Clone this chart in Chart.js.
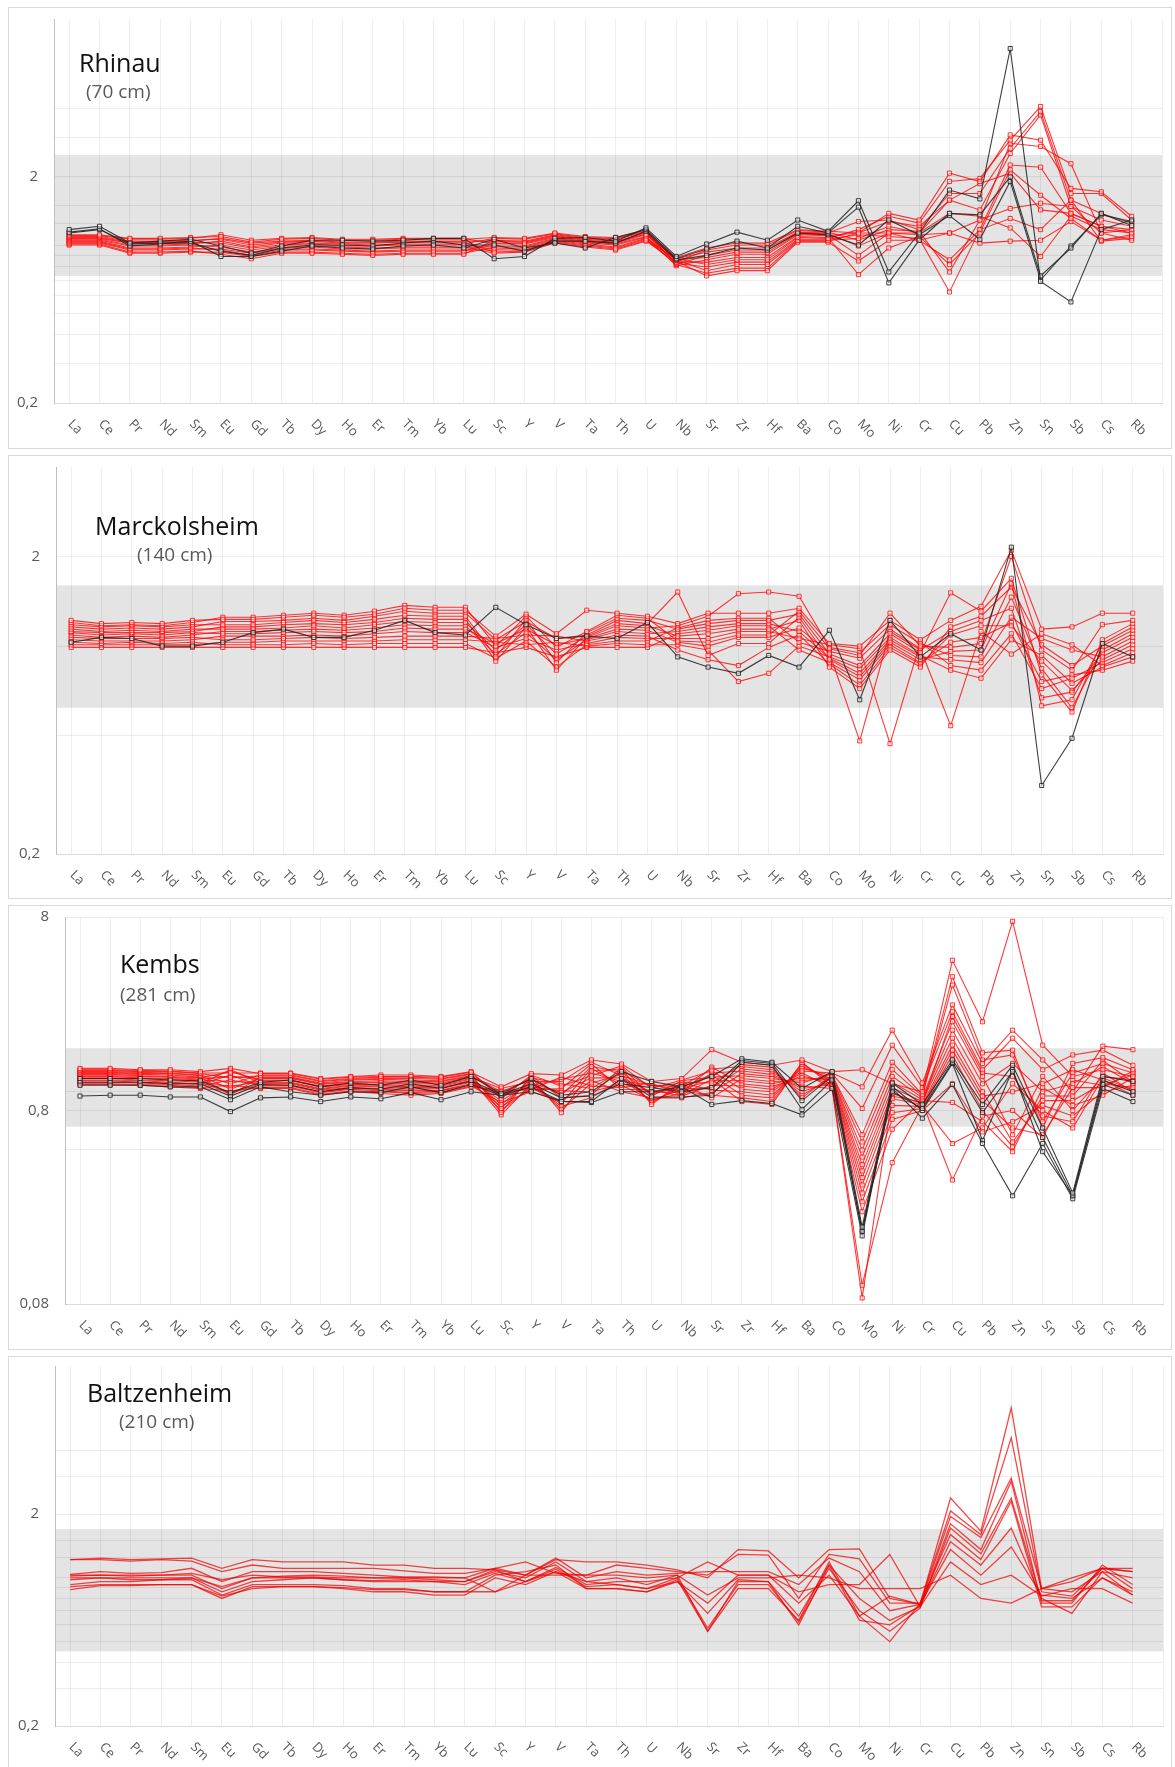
<!DOCTYPE html>
<html>
<head>
<meta charset="utf-8">
<script src="https://cdn.jsdelivr.net/npm/chart.js@4.4.0/dist/chart.umd.min.js"></script>
<style>
  body { margin: 0; background: #fff; }
  #page { position: relative; width: 1175px; height: 1767px; overflow: hidden; background: #fff; }
  .panel { position: absolute; left: 8px; width: 1162px; border: 1px solid #d9d9d9; }
  .panel canvas { display: block; }
</style>
</head>
<body>
<div id="page">
  <div class="panel" style="top:7px;height:440px"><canvas id="rhinau" width="1162" height="440"></canvas></div>
  <div class="panel" style="top:455px;height:442px"><canvas id="marckolsheim" width="1162" height="442"></canvas></div>
  <div class="panel" style="top:905px;height:443px"><canvas id="kembs" width="1162" height="443"></canvas></div>
  <div class="panel" style="top:1356px;height:410px"><canvas id="baltzenheim" width="1162" height="410"></canvas></div>
</div>
<script>
const elements = ['La', 'Ce', 'Pr', 'Nd', 'Sm', 'Eu', 'Gd', 'Tb', 'Dy', 'Ho', 'Er', 'Tm', 'Yb', 'Lu', 'Sc', 'Y', 'V', 'Ta', 'Th', 'U',
  'Nb', 'Sr', 'Zr', 'Hf', 'Ba', 'Co', 'Mo', 'Ni', 'Cr', 'Cu', 'Pb', 'Zn', 'Sn', 'Sb', 'Cs', 'Rb'];

// Rhinau (70 cm)
const rhinauBlack = [
  [1.17, 1.21, 1.02, 1.04, 1.06, 0.99, 0.92, 0.99, 1.05, 1.05, 1.04, 1.05, 1.07, 1.07, 0.87, 0.89, 1.07, 1.08, 1.04, 1.19, 0.89, 1.01, 1.14, 1.05, 1.29, 1.15, 1.57, 0.76, 1.13, 1.75, 1.60, 7.40, 0.69, 0.56, 1.17, 1.29],
  [1.14, 1.18, 0.99, 1.01, 1.04, 0.89, 0.89, 0.94, 0.99, 0.97, 0.96, 0.99, 1.00, 0.97, 1.06, 0.97, 1.02, 0.97, 1.08, 1.17, 0.87, 0.96, 1.04, 0.97, 1.21, 1.13, 1.47, 0.68, 1.05, 1.38, 1.36, 2.00, 0.73, 0.97, 1.38, 1.22],
  [1.13, 1.17, 1.01, 1.02, 1.02, 0.94, 0.90, 0.97, 1.00, 1.00, 0.99, 1.02, 1.04, 1.00, 1.00, 0.94, 1.04, 1.04, 1.02, 1.15, 0.86, 0.90, 0.97, 0.95, 1.13, 1.11, 1.00, 1.29, 1.11, 1.35, 1.06, 1.91, 0.70, 0.99, 1.36, 1.27],
];
const rhinauRed = [
  [1.11, 1.11, 1.07, 1.07, 1.08, 1.09, 1.03, 1.06, 1.07, 1.05, 1.05, 1.06, 1.06, 1.06, 1.08, 1.07, 1.13, 1.09, 1.08, 1.16, 0.88, 0.97, 1.02, 1.02, 1.17, 1.15, 1.13, 1.38, 1.29, 2.08, 1.91, 3.07, 2.91, 1.78, 1.72, 1.34],
  [1.10, 1.10, 1.06, 1.06, 1.07, 1.11, 1.05, 1.07, 1.08, 1.06, 1.06, 1.07, 1.07, 1.07, 1.01, 1.01, 1.08, 1.04, 1.02, 1.11, 0.87, 0.82, 0.86, 0.86, 1.08, 1.07, 1.17, 1.34, 1.25, 1.91, 1.97, 2.91, 4.10, 1.69, 1.69, 1.29],
  [1.09, 1.09, 1.04, 1.04, 1.05, 1.06, 1.00, 1.03, 1.04, 1.02, 1.02, 1.03, 1.03, 1.03, 0.93, 0.94, 1.03, 0.99, 0.96, 1.05, 0.87, 0.93, 0.97, 0.97, 1.14, 1.13, 1.27, 1.29, 1.17, 1.69, 1.69, 2.68, 3.89, 1.58, 1.38, 1.25],
  [1.08, 1.08, 1.03, 1.03, 1.04, 1.07, 1.02, 1.04, 1.05, 1.03, 1.03, 1.04, 1.04, 1.04, 1.04, 1.03, 1.10, 1.06, 1.04, 1.13, 0.86, 0.77, 0.82, 0.82, 1.05, 1.05, 1.07, 1.21, 1.13, 1.58, 1.43, 2.54, 3.76, 1.48, 1.29, 1.21],
  [1.07, 1.07, 1.02, 1.02, 1.03, 1.02, 0.97, 1.00, 1.01, 0.99, 0.99, 1.00, 1.00, 1.00, 0.96, 0.97, 1.05, 1.01, 0.98, 1.07, 0.86, 0.88, 0.93, 0.93, 1.12, 1.11, 0.90, 1.13, 1.11, 1.13, 1.29, 2.82, 2.73, 2.29, 1.13, 1.17],
  [1.06, 1.06, 1.00, 1.00, 1.01, 1.04, 0.98, 1.02, 1.02, 1.01, 1.00, 1.01, 1.01, 1.01, 1.07, 1.06, 1.12, 1.08, 1.07, 1.15, 0.85, 0.73, 0.77, 0.77, 1.03, 1.03, 0.85, 1.05, 1.05, 0.86, 1.17, 2.26, 2.21, 1.38, 1.21, 1.13],
  [1.05, 1.05, 0.99, 0.99, 1.00, 0.98, 0.93, 0.97, 0.98, 0.96, 0.96, 0.97, 0.97, 0.97, 0.99, 0.99, 1.07, 1.03, 1.01, 1.09, 0.84, 0.84, 0.88, 0.88, 1.09, 1.08, 0.74, 0.97, 1.09, 0.82, 1.13, 2.15, 1.66, 1.31, 1.05, 1.09],
  [1.04, 1.04, 0.97, 0.97, 0.98, 1.00, 0.95, 0.99, 0.99, 0.98, 0.97, 0.98, 0.98, 0.98, 0.92, 0.93, 1.02, 0.98, 0.95, 1.04, 0.84, 0.95, 1.00, 1.00, 1.16, 1.14, 1.05, 1.17, 1.15, 0.76, 1.29, 1.45, 1.53, 1.48, 1.13, 1.05],
  [1.03, 1.03, 0.96, 0.96, 0.97, 0.95, 0.90, 0.95, 0.95, 0.94, 0.93, 0.94, 0.94, 0.94, 1.02, 1.02, 1.09, 1.05, 1.03, 1.12, 0.83, 0.80, 0.84, 0.84, 1.06, 1.06, 1.11, 1.09, 1.07, 0.62, 1.17, 1.31, 1.17, 1.58, 1.04, 1.07],
  [1.02, 1.02, 0.95, 0.95, 0.96, 0.96, 0.92, 0.96, 0.96, 0.95, 0.94, 0.95, 0.95, 0.95, 0.95, 0.95, 1.04, 1.00, 0.97, 1.06, 0.82, 0.90, 0.95, 0.95, 1.13, 1.12, 0.99, 1.13, 1.05, 1.13, 1.02, 1.04, 1.05, 1.27, 1.05, 1.11],
  [1.01, 1.01, 0.93, 0.93, 0.94, 0.91, 0.87, 0.92, 0.92, 0.91, 0.90, 0.91, 0.91, 0.91, 1.05, 1.04, 1.11, 1.07, 1.06, 1.14, 0.82, 0.75, 0.79, 0.79, 1.04, 1.04, 1.13, 1.13, 1.13, 1.38, 1.34, 1.19, 0.89, 1.34, 1.17, 1.13],
  [1.00, 1.00, 0.92, 0.92, 0.93, 0.93, 0.89, 0.93, 0.93, 0.92, 0.91, 0.92, 0.92, 0.92, 0.98, 0.98, 1.06, 1.02, 1.00, 1.08, 0.81, 0.86, 0.91, 0.91, 1.11, 1.10, 1.13, 1.27, 1.21, 1.58, 1.87, 2.08, 1.43, 1.38, 1.21, 1.17],
];
const rhinauGrid = [0.2, 0.3, 0.4, 0.5, 0.6, 0.7, 0.8, 0.9, 1, 1.25, 1.5, 2, 3, 4];
const rhinauTicks = [0.2, 2];
const rhinauBand = [0.73, 2.5];

// Marckolsheim (140 cm)
const marckBlack = [
  [1.03, 1.07, 1.06, 1.00, 1.00, 1.03, 1.11, 1.14, 1.07, 1.07, 1.13, 1.22, 1.11, 1.09, 1.35, 1.18, 1.06, 1.08, 1.06, 1.20, 0.92, 0.85, 0.81, 0.93, 0.85, 1.13, 0.66, 1.22, 0.92, 1.10, 0.97, 2.15, 0.34, 0.49, 1.02, 0.92],
];
const marckRed = [
  [1.22, 1.19, 1.20, 1.19, 1.22, 1.23, 1.23, 1.25, 1.27, 1.25, 1.28, 1.34, 1.32, 1.32, 1.08, 1.28, 1.10, 1.32, 1.29, 1.26, 1.19, 1.29, 1.29, 1.29, 1.34, 1.02, 1.00, 1.22, 1.05, 1.22, 1.36, 2.10, 1.14, 1.16, 1.29, 1.29],
  [1.20, 1.17, 1.18, 1.17, 1.20, 1.25, 1.25, 1.27, 1.29, 1.27, 1.31, 1.37, 1.35, 1.35, 1.00, 1.26, 0.99, 1.12, 1.27, 1.24, 1.04, 1.03, 1.09, 1.09, 1.31, 0.98, 0.93, 1.29, 1.00, 0.99, 1.02, 2.00, 0.97, 0.83, 1.18, 1.22],
  [1.18, 1.16, 1.17, 1.16, 1.18, 1.18, 1.18, 1.20, 1.22, 1.20, 1.23, 1.27, 1.26, 1.26, 0.92, 1.23, 0.88, 1.11, 1.24, 1.22, 1.14, 1.19, 1.22, 1.22, 1.28, 0.94, 0.86, 1.10, 0.95, 1.51, 1.31, 1.69, 0.80, 0.60, 1.05, 1.19],
  [1.16, 1.14, 1.15, 1.14, 1.16, 1.21, 1.21, 1.22, 1.24, 1.22, 1.26, 1.31, 1.29, 1.29, 1.05, 1.21, 1.06, 1.09, 1.22, 1.19, 1.52, 0.93, 1.02, 1.02, 1.25, 0.90, 0.79, 1.03, 0.90, 0.96, 0.97, 1.62, 0.63, 0.66, 1.02, 1.16],
  [1.14, 1.12, 1.13, 1.12, 1.14, 1.14, 1.14, 1.15, 1.17, 1.15, 1.18, 1.21, 1.20, 1.20, 0.97, 1.18, 0.94, 1.08, 1.19, 1.17, 1.08, 1.10, 1.14, 1.14, 1.22, 0.85, 0.72, 0.97, 0.85, 1.16, 1.26, 1.58, 1.01, 0.86, 1.00, 1.13],
  [1.12, 1.11, 1.11, 1.11, 1.12, 1.16, 1.16, 1.18, 1.19, 1.18, 1.20, 1.24, 1.23, 1.23, 0.89, 1.16, 0.83, 1.07, 1.17, 1.15, 1.17, 1.26, 1.50, 1.52, 1.47, 0.99, 0.95, 1.18, 1.02, 0.93, 0.92, 1.46, 0.84, 0.62, 0.97, 1.10],
  [1.11, 1.09, 1.10, 1.09, 1.11, 1.10, 1.10, 1.11, 1.12, 1.11, 1.12, 1.15, 1.14, 1.14, 1.02, 1.14, 1.01, 1.06, 1.14, 1.13, 1.03, 1.00, 1.07, 1.07, 1.15, 0.95, 0.48, 1.12, 0.97, 1.12, 1.22, 1.34, 0.67, 0.70, 0.95, 1.07],
  [1.09, 1.07, 1.08, 1.07, 1.09, 1.12, 1.12, 1.13, 1.14, 1.13, 1.15, 1.18, 1.17, 1.17, 0.94, 1.11, 0.90, 1.05, 1.12, 1.10, 1.12, 1.16, 1.19, 1.19, 1.12, 0.91, 0.81, 1.05, 0.92, 0.90, 0.88, 1.25, 1.06, 0.97, 0.92, 1.04],
  [1.07, 1.06, 1.06, 1.06, 1.07, 1.05, 1.05, 1.06, 1.07, 1.06, 1.07, 1.08, 1.08, 1.08, 1.06, 1.09, 1.08, 1.04, 1.09, 1.08, 0.97, 0.90, 0.86, 0.99, 1.09, 0.87, 0.74, 0.99, 0.87, 1.09, 1.17, 1.17, 0.89, 0.71, 0.90, 1.01],
  [1.05, 1.04, 1.04, 1.04, 1.05, 1.08, 1.08, 1.08, 1.09, 1.08, 1.10, 1.12, 1.11, 1.11, 0.99, 1.06, 0.97, 1.02, 1.07, 1.06, 1.06, 1.06, 1.12, 1.12, 1.06, 1.01, 0.98, 0.47, 1.03, 0.86, 0.83, 1.10, 0.72, 0.78, 0.88, 0.98],
  [1.03, 1.02, 1.03, 1.02, 1.03, 1.01, 1.01, 1.01, 1.02, 1.01, 1.02, 1.02, 1.02, 1.02, 0.91, 1.04, 0.85, 1.01, 1.04, 1.04, 1.15, 1.22, 1.24, 1.24, 1.03, 0.96, 0.91, 1.14, 0.98, 0.54, 1.12, 0.94, 1.10, 1.01, 0.86, 0.95],
  [1.01, 1.01, 1.01, 1.01, 1.01, 1.03, 1.03, 1.04, 1.04, 1.04, 1.04, 1.05, 1.05, 1.05, 1.03, 1.01, 1.03, 1.00, 1.02, 1.01, 1.01, 0.97, 0.76, 0.81, 1.00, 0.92, 0.84, 1.07, 0.93, 0.83, 0.78, 1.05, 0.93, 0.75, 0.85, 0.92],
  [0.99, 0.99, 0.99, 0.99, 0.99, 0.99, 0.99, 0.99, 0.99, 0.99, 0.99, 0.99, 0.99, 0.99, 0.95, 0.99, 0.92, 0.99, 0.99, 0.99, 1.10, 1.13, 1.17, 1.17, 0.97, 0.88, 0.77, 1.01, 0.88, 1.03, 1.07, 1.20, 0.76, 0.80, 0.83, 0.89],
];
const marckGrid = [0.2, 0.5, 1, 2];
const marckTicks = [0.2, 2];
const marckBand = [0.62, 1.6];

// Kembs (281 cm)
const kembsBlack = [
  [1.17, 1.17, 1.17, 1.15, 1.14, 0.99, 1.12, 1.15, 1.06, 1.11, 1.08, 1.15, 1.08, 1.20, 0.98, 1.17, 0.96, 1.00, 1.27, 1.13, 1.06, 1.20, 1.48, 1.42, 1.04, 1.27, 0.20, 1.11, 0.86, 1.46, 0.86, 1.37, 0.65, 0.30, 1.20, 1.13],
  [1.08, 1.08, 1.08, 1.06, 1.06, 0.91, 1.06, 1.00, 0.96, 1.00, 0.99, 1.06, 0.99, 1.09, 0.96, 1.06, 0.89, 0.89, 1.17, 0.94, 0.94, 0.96, 1.42, 1.37, 0.81, 1.15, 0.19, 1.00, 0.82, 1.42, 0.78, 1.27, 0.58, 0.29, 1.09, 0.96],
  [0.95, 0.96, 0.96, 0.94, 0.94, 0.79, 0.93, 0.94, 0.89, 0.94, 0.92, 0.99, 0.91, 1.00, 0.96, 1.00, 0.89, 0.88, 1.00, 1.00, 1.06, 0.86, 0.90, 0.87, 0.76, 1.04, 0.18, 1.04, 0.73, 1.09, 0.54, 0.29, 0.54, 0.28, 1.04, 0.89],
  [1.12, 1.12, 1.12, 1.10, 1.10, 0.95, 1.09, 1.08, 1.00, 1.05, 1.03, 1.10, 1.04, 1.14, 0.97, 1.10, 0.93, 0.95, 1.10, 1.05, 1.00, 1.05, 1.45, 1.40, 0.90, 1.20, 0.19, 1.06, 0.80, 1.40, 0.56, 1.30, 0.49, 0.29, 1.15, 1.00],
];
const kembsRed = [
  [1.32, 1.32, 1.30, 1.30, 1.27, 1.32, 1.24, 1.24, 1.16, 1.19, 1.20, 1.20, 1.19, 1.26, 1.06, 1.24, 1.22, 1.46, 1.39, 1.13, 1.17, 1.65, 1.42, 1.37, 1.46, 1.27, 1.30, 1.10, 1.00, 4.78, 2.30, 7.60, 1.74, 1.20, 1.30, 1.20],
  [1.30, 1.30, 1.29, 1.28, 1.25, 1.25, 1.25, 1.25, 1.17, 1.20, 1.22, 1.22, 1.20, 1.27, 0.92, 1.22, 1.07, 1.21, 1.36, 1.04, 1.15, 1.28, 1.03, 1.00, 1.28, 1.25, 1.06, 2.08, 1.11, 2.81, 1.40, 2.08, 1.46, 1.00, 1.72, 1.65],
  [1.29, 1.29, 1.27, 1.27, 1.24, 1.18, 1.21, 1.21, 1.13, 1.16, 1.17, 1.17, 1.16, 1.23, 0.78, 1.21, 0.93, 0.96, 1.34, 0.95, 1.14, 1.19, 1.21, 1.17, 1.11, 1.24, 0.82, 1.74, 1.05, 2.59, 1.30, 1.89, 1.30, 1.55, 1.64, 1.37],
  [1.27, 1.27, 1.26, 1.25, 1.22, 1.10, 1.22, 1.22, 1.14, 1.17, 1.19, 1.19, 1.17, 1.24, 0.96, 1.19, 0.78, 1.28, 1.31, 0.86, 1.12, 1.11, 1.38, 1.34, 0.93, 1.22, 0.60, 1.42, 0.97, 3.93, 1.59, 1.64, 0.65, 1.40, 1.50, 1.30],
  [1.26, 1.26, 1.24, 1.24, 1.21, 1.03, 1.18, 1.18, 1.10, 1.13, 1.14, 1.13, 1.13, 1.20, 0.82, 1.18, 1.10, 1.04, 1.29, 1.06, 1.11, 1.02, 1.00, 0.96, 1.32, 1.21, 0.55, 1.30, 0.95, 3.56, 1.46, 1.55, 0.70, 1.25, 1.40, 1.25],
  [1.24, 1.24, 1.23, 1.22, 1.19, 0.96, 1.19, 1.19, 1.11, 1.15, 1.16, 1.15, 1.14, 1.21, 1.00, 1.16, 0.96, 1.35, 1.26, 0.97, 1.09, 0.93, 1.17, 1.13, 1.14, 1.19, 0.50, 1.20, 0.93, 2.30, 1.20, 0.60, 1.20, 0.80, 1.20, 1.15],
  [1.23, 1.23, 1.21, 1.20, 1.18, 1.27, 1.15, 1.15, 1.07, 1.11, 1.11, 1.10, 1.10, 1.17, 0.86, 1.14, 0.81, 1.11, 1.23, 0.88, 1.07, 1.31, 1.35, 1.30, 0.96, 1.18, 0.46, 1.12, 0.91, 2.08, 1.10, 1.40, 1.00, 1.10, 1.35, 1.10],
  [1.21, 1.21, 1.20, 1.19, 1.16, 1.20, 1.17, 1.17, 1.09, 1.12, 1.12, 1.12, 1.11, 1.19, 1.04, 1.13, 1.13, 1.42, 1.21, 1.08, 1.06, 1.22, 0.96, 0.93, 1.35, 1.16, 0.42, 1.05, 0.89, 1.89, 1.00, 0.55, 0.90, 0.90, 1.10, 1.05],
  [1.20, 1.20, 1.18, 1.17, 1.15, 1.13, 1.12, 1.12, 1.04, 1.08, 1.08, 1.06, 1.07, 1.14, 0.90, 1.11, 0.99, 1.18, 1.18, 0.99, 1.04, 1.14, 1.14, 1.10, 1.18, 1.15, 0.39, 0.98, 0.87, 2.45, 1.25, 1.20, 0.75, 0.70, 1.25, 1.00],
  [1.18, 1.18, 1.17, 1.16, 1.13, 1.06, 1.14, 1.14, 1.06, 1.09, 1.09, 1.08, 1.08, 1.16, 0.76, 1.10, 0.84, 0.93, 1.16, 0.90, 1.03, 1.05, 1.31, 1.27, 1.00, 1.13, 0.36, 0.92, 0.86, 1.74, 0.95, 1.00, 1.10, 1.30, 1.15, 0.96],
  [1.17, 1.17, 1.15, 1.14, 1.12, 0.98, 1.10, 1.10, 1.02, 1.05, 1.04, 1.03, 1.04, 1.12, 0.94, 1.08, 1.16, 1.25, 1.13, 1.09, 1.01, 0.96, 0.93, 0.89, 1.39, 1.12, 0.33, 0.85, 0.84, 1.64, 0.90, 0.65, 0.60, 1.05, 1.05, 1.28],
  [1.15, 1.15, 1.14, 1.12, 1.10, 1.30, 1.11, 1.11, 1.03, 1.07, 1.06, 1.05, 1.05, 1.13, 0.80, 1.06, 1.01, 1.00, 1.10, 1.00, 0.99, 1.34, 1.10, 1.06, 1.21, 1.10, 0.30, 0.78, 0.82, 1.55, 0.80, 0.52, 0.95, 0.95, 1.45, 1.12],
  [1.14, 1.14, 1.12, 1.11, 1.09, 1.22, 1.07, 1.07, 0.99, 1.03, 1.01, 0.99, 1.01, 1.09, 0.98, 1.05, 0.87, 1.32, 1.08, 0.91, 0.98, 1.25, 1.28, 1.23, 1.04, 1.09, 0.27, 0.72, 0.80, 1.10, 0.62, 0.70, 0.85, 0.75, 1.00, 1.08],
  [1.12, 1.12, 1.11, 1.09, 1.07, 1.15, 1.08, 1.08, 1.00, 1.04, 1.03, 1.01, 1.02, 1.10, 0.84, 1.03, 1.19, 1.07, 1.05, 1.11, 0.96, 1.16, 0.89, 0.86, 1.42, 1.07, 0.24, 0.64, 0.90, 0.88, 0.70, 0.49, 1.05, 0.85, 0.96, 1.18],
  [1.10, 1.10, 1.09, 1.08, 1.05, 1.08, 1.04, 1.04, 0.96, 1.00, 0.98, 0.96, 0.98, 1.06, 1.02, 1.02, 1.04, 1.39, 1.03, 1.02, 0.95, 1.08, 1.07, 1.03, 1.25, 1.05, 0.10, 0.43, 0.85, 0.54, 0.65, 1.10, 0.80, 0.65, 1.18, 1.02],
  [1.09, 1.09, 1.08, 1.06, 1.04, 1.01, 1.05, 1.05, 0.97, 1.01, 1.00, 0.98, 0.99, 1.07, 0.88, 1.00, 0.90, 1.14, 1.00, 0.93, 0.93, 0.99, 1.24, 1.20, 1.07, 1.04, 0.086, 0.95, 0.88, 0.35, 0.75, 0.80, 0.58, 1.15, 1.08, 1.22],
];
const kembsGrid = [0.08, 0.5, 0.8, 1, 8];
const kembsTicks = [0.08, 0.8, 8];
const kembsBand = [0.66, 1.68];

// Baltzenheim (210 cm), lines only
const baltzRed = [
  [1.22, 1.24, 1.22, 1.23, 1.24, 1.11, 1.22, 1.19, 1.19, 1.19, 1.15, 1.15, 1.11, 1.11, 1.09, 1.03, 1.22, 1.19, 1.19, 1.15, 1.09, 1.00, 1.36, 1.34, 1.00, 1.36, 1.37, 0.80, 0.75, 2.38, 1.66, 6.35, 0.89, 0.96, 1.11, 1.07],
  [1.22, 1.22, 1.20, 1.22, 1.20, 1.07, 1.15, 1.11, 1.11, 1.11, 1.11, 1.08, 1.05, 1.05, 1.11, 1.19, 1.05, 1.03, 1.15, 1.11, 1.07, 1.03, 1.29, 1.28, 0.80, 1.29, 1.23, 0.76, 0.76, 2.07, 1.60, 4.58, 0.86, 0.82, 1.11, 1.07],
  [1.04, 1.07, 1.05, 1.06, 1.11, 0.96, 1.07, 1.07, 1.07, 1.05, 1.03, 1.01, 1.01, 1.00, 1.11, 1.03, 1.24, 1.00, 1.07, 1.03, 1.05, 1.07, 1.07, 1.07, 0.93, 1.24, 1.07, 0.70, 0.75, 1.95, 1.55, 2.96, 0.89, 0.86, 1.07, 1.00],
  [1.02, 1.03, 1.02, 1.03, 1.03, 0.89, 1.00, 1.02, 1.03, 1.02, 1.00, 1.00, 0.98, 0.96, 1.07, 1.00, 1.19, 0.96, 1.00, 0.93, 1.03, 0.56, 0.96, 0.96, 0.60, 1.15, 0.80, 0.63, 0.73, 1.80, 1.36, 2.86, 0.76, 0.76, 1.15, 0.93],
  [1.00, 1.00, 1.00, 1.00, 1.00, 0.86, 0.96, 0.98, 1.00, 0.98, 0.96, 0.96, 0.96, 0.93, 1.05, 0.96, 1.12, 0.93, 0.96, 0.96, 1.00, 0.58, 0.93, 0.93, 0.62, 1.11, 0.70, 0.56, 0.72, 1.72, 1.30, 2.38, 0.78, 0.78, 1.11, 0.89],
  [0.93, 0.96, 0.96, 0.98, 0.98, 0.83, 0.93, 0.93, 0.93, 0.92, 0.89, 0.89, 0.86, 0.86, 1.03, 1.07, 1.15, 0.89, 0.89, 0.86, 0.98, 0.56, 0.89, 0.89, 0.63, 1.19, 0.66, 0.50, 0.76, 1.60, 1.22, 2.30, 0.73, 0.73, 1.00, 0.83],
  [0.91, 0.93, 0.93, 0.93, 0.93, 0.80, 0.91, 0.91, 0.91, 0.90, 0.88, 0.88, 0.86, 0.86, 0.86, 0.96, 1.10, 0.91, 0.93, 0.89, 0.96, 0.68, 0.98, 0.96, 0.66, 1.15, 0.63, 0.60, 0.74, 1.48, 1.15, 1.72, 0.80, 0.68, 1.07, 0.83],
  [0.88, 0.92, 0.92, 0.93, 0.93, 0.82, 0.89, 0.91, 0.91, 0.89, 0.86, 0.86, 0.83, 0.83, 1.00, 0.93, 1.07, 0.89, 0.89, 0.86, 0.96, 0.76, 1.03, 1.03, 0.76, 1.03, 0.66, 0.82, 0.75, 1.36, 1.03, 1.40, 0.83, 0.80, 1.00, 0.86],
  [0.98, 1.00, 0.98, 0.98, 1.00, 0.91, 1.00, 1.00, 1.00, 0.98, 0.97, 0.98, 0.96, 0.96, 1.09, 0.96, 1.07, 0.96, 0.93, 0.89, 1.00, 1.19, 1.03, 1.03, 0.86, 0.93, 0.93, 1.29, 0.73, 1.19, 0.93, 1.03, 0.82, 0.89, 0.89, 0.76],
  [1.03, 1.03, 1.03, 1.03, 1.05, 0.98, 1.03, 1.01, 1.01, 1.00, 1.00, 1.00, 1.00, 1.00, 0.86, 1.03, 1.03, 1.03, 1.03, 1.00, 1.03, 0.83, 1.00, 1.00, 1.03, 1.00, 0.89, 0.89, 0.89, 1.03, 0.80, 0.76, 0.89, 1.00, 1.11, 1.11],
];
const baltzGrid = [0.2, 0.3, 0.4, 0.5, 0.6, 0.7, 0.8, 0.9, 1, 1.25, 1.5, 2, 3, 4];
const baltzTicks = [0.2, 2];
const baltzBand = [0.45, 1.7];

const RED = 'rgba(255, 0, 0, 0.78)';
const BLACK = 'rgba(35, 35, 35, 0.88)';
const GREY_TEXT = '#595959';

function seriesStyle(values, color, markers) {
  return {
    data: values.map((v, i) => ({ x: i, y: v })),
    borderColor: color,
    borderWidth: markers ? 1.1 : 1.3,
    pointStyle: 'rect',
    pointRadius: markers ? 2.9 : 0,
    pointBorderWidth: 1,
    pointBorderColor: color,
    pointBackgroundColor: 'rgba(255, 255, 255, 0.55)',
    tension: 0,
    fill: false,
  };
}

function drawPanel(id, p) {
  // black profiles first so they sit on top of the red ones
  const datasets = p.black.map((s) => seriesStyle(s, BLACK, p.markers))
    .concat(p.red.map((s) => seriesStyle(s, p.markers ? RED : 'rgba(240, 0, 0, 0.72)', p.markers)));

  const decor = {
    id: 'decor',
    beforeDraw(chart) {
      // grey reference band
      const { ctx, chartArea, scales: { y } } = chart;
      const top = y.getPixelForValue(p.band[1]);
      const bottom = y.getPixelForValue(p.band[0]);
      ctx.save();
      ctx.fillStyle = '#e4e4e4';
      ctx.fillRect(chartArea.left, top, chartArea.right - chartArea.left, bottom - top);
      ctx.restore();
    },
    afterDraw(chart) {
      const { ctx, chartArea, scales: { x } } = chart;
      ctx.save();
      // element names, tilted down to the right
      ctx.font = '13px "Open Sans"';
      ctx.fillStyle = GREY_TEXT;
      ctx.textAlign = 'left';
      ctx.textBaseline = 'middle';
      elements.forEach((el, i) => {
        ctx.save();
        ctx.translate(x.getPixelForValue(i) + 1, chartArea.bottom + 19);
        ctx.rotate(Math.PI / 4);
        ctx.fillText(el, 0, 0);
        ctx.restore();
      });
      // site name and core depth
      ctx.textBaseline = 'alphabetic';
      ctx.font = '25px "Open Sans"';
      ctx.fillStyle = '#111';
      ctx.fillText(p.title, p.titleAt[0], p.titleAt[1]);
      ctx.font = '19px "Open Sans"';
      ctx.fillStyle = GREY_TEXT;
      ctx.fillText(p.depth, p.depthAt[0], p.depthAt[1]);
      ctx.restore();
    },
  };

  return new Chart(document.getElementById(id), {
    type: 'line',
    data: { datasets },
    options: {
      responsive: false,
      animation: false,
      devicePixelRatio: 1,
      layout: { padding: { top: p.padTop, right: p.padRight, left: 0, bottom: 0 } },
      scales: {
        x: {
          type: 'linear',
          min: -0.5,
          max: 36,
          afterBuildTicks: (s) => {
            s.ticks = elements.map((_, i) => ({ value: i })).concat([{ value: 36 }]);
          },
          afterFit: (s) => { s.height = p.xHeight; },
          ticks: { display: false },
          grid: { color: 'rgba(0, 0, 0, 0.065)', drawTicks: false },
          border: { color: '#d9d9d9' },
        },
        y: {
          type: 'logarithmic',
          min: p.min,
          max: p.max,
          afterBuildTicks: (s) => { s.ticks = p.grid.map((v) => ({ value: v })); },
          afterFit: (s) => { s.width = p.yWidth; },
          ticks: {
            autoSkip: false,
            padding: 0,
            color: GREY_TEXT,
            font: { family: 'Open Sans', size: 15 },
            callback: (v) => (p.ticks.includes(v) ? String(v).replace('.', ',') : ''),
          },
          // an invisible tick mark keeps the labels clear of the axis line
          grid: { color: 'rgba(0, 0, 0, 0.075)', drawTicks: true, tickLength: 16, tickColor: 'rgba(0, 0, 0, 0)' },
          border: { color: '#bfbfbf' },
        },
      },
      plugins: { legend: { display: false }, tooltip: { enabled: false } },
    },
    plugins: [decor],
  });
}

drawPanel('rhinau', {
  black: rhinauBlack, red: rhinauRed, markers: true,
  min: 0.2, max: 10, grid: rhinauGrid, ticks: rhinauTicks, band: rhinauBand,
  title: 'Rhinau', titleAt: [70, 64], depth: '(70 cm)', depthAt: [77, 90],
  padTop: 11, padRight: 9, yWidth: 45, xHeight: 45,
});

drawPanel('marckolsheim', {
  black: marckBlack, red: marckRed, markers: true,
  min: 0.2, max: 4, grid: marckGrid, ticks: marckTicks, band: marckBand,
  title: 'Marckolsheim', titleAt: [86, 79], depth: '(140 cm)', depthAt: [128, 105],
  padTop: 11, padRight: 8, yWidth: 47, xHeight: 44,
});

drawPanel('kembs', {
  black: kembsBlack, red: kembsRed, markers: true,
  min: 0.08, max: 8, grid: kembsGrid, ticks: kembsTicks, band: kembsBand,
  title: 'Kembs', titleAt: [111, 67], depth: '(281 cm)', depthAt: [111, 95],
  padTop: 11, padRight: 8, yWidth: 56, xHeight: 45,
});

drawPanel('baltzenheim', {
  black: [], red: baltzRed, markers: false,
  min: 0.2, max: 10, grid: baltzGrid, ticks: baltzTicks, band: baltzBand,
  title: 'Baltzenheim', titleAt: [78, 45], depth: '(210 cm)', depthAt: [110, 71],
  padTop: 9, padRight: 8, yWidth: 46, xHeight: 41,
});
</script>
</body>
</html>
